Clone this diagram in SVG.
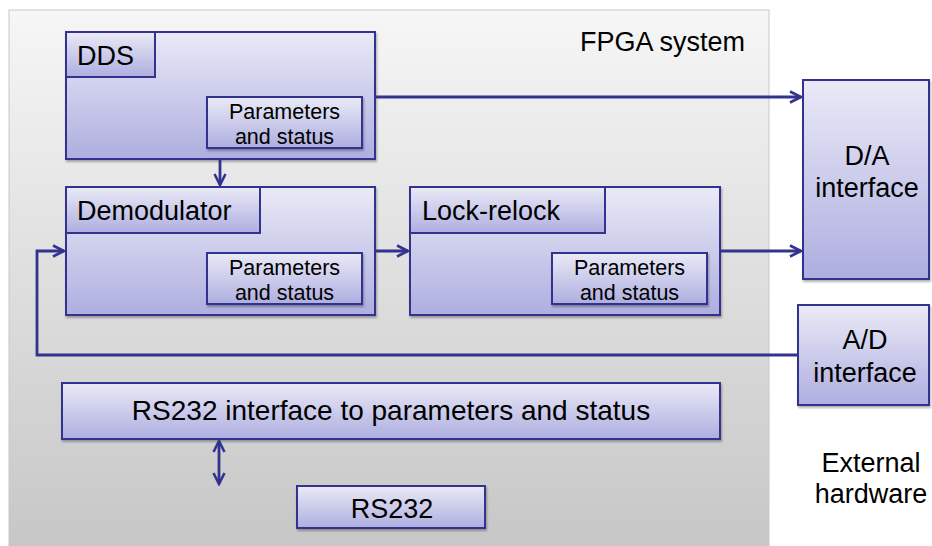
<svg xmlns="http://www.w3.org/2000/svg" width="932" height="546" viewBox="0 0 932 546">
<defs>
<linearGradient id="bg" x1="0" y1="0" x2="0" y2="1">
<stop offset="0" stop-color="#f6f6f6"/>
<stop offset="1" stop-color="#c6c6c6"/>
</linearGradient>
<linearGradient id="box" x1="0" y1="0" x2="0" y2="1">
<stop offset="0" stop-color="#eaeaf7"/>
<stop offset="1" stop-color="#aeaee0"/>
</linearGradient>
<marker id="arr" viewBox="0 0 14 14" refX="12.5" refY="7" markerWidth="14" markerHeight="14" markerUnits="userSpaceOnUse" orient="auto-start-reverse">
<path d="M1.5,1.5 L12.5,7 L1.5,12.5" fill="none" stroke="#33338f" stroke-width="2.6"/>
</marker>
<filter id="sh" x="-5%" y="-5%" width="115%" height="115%">
<feDropShadow dx="1" dy="2" stdDeviation="1.2" flood-color="#000" flood-opacity="0.3"/>
</filter>
</defs>
<style>
.b{fill:url(#box);stroke:#33338f;stroke-width:2}
.t{font-family:"Liberation Sans",Arial,sans-serif;fill:#000}
.l{font-size:27px}
.m{text-anchor:middle}
.s{font-size:21.5px;text-anchor:middle}
.c{fill:none;stroke:#33338f;stroke-width:2.8}
</style>
<rect x="9" y="10" width="760" height="545" fill="url(#bg)" stroke="#c8c8c8" stroke-width="1"/>
<text class="t l" x="580" y="51">FPGA system</text>

<g id="dds">
<rect class="b" x="66" y="32" width="309" height="127" filter="url(#sh)"/>
<rect class="b" x="66" y="32" width="89" height="45"/>
<text class="t l" x="77" y="65">DDS</text>
<rect class="b" x="207" y="97" width="155" height="51" filter="url(#sh)"/>
<text class="t s" x="284.5" y="119">Parameters</text>
<text class="t s" x="284.5" y="144">and status</text>
</g>

<g id="demodulator">
<rect class="b" x="66" y="187" width="309" height="128" filter="url(#sh)"/>
<rect class="b" x="66" y="187" width="194" height="46"/>
<text class="t l" x="77" y="220">Demodulator</text>
<rect class="b" x="207" y="253" width="155" height="51" filter="url(#sh)"/>
<text class="t s" x="284.5" y="275">Parameters</text>
<text class="t s" x="284.5" y="300">and status</text>
</g>

<g id="lockrelock">
<rect class="b" x="410" y="187" width="310" height="128" filter="url(#sh)"/>
<rect class="b" x="410" y="187" width="195" height="46"/>
<text class="t l" x="422" y="220">Lock-relock</text>
<rect class="b" x="552" y="253" width="155" height="51" filter="url(#sh)"/>
<text class="t s" x="629.5" y="275">Parameters</text>
<text class="t s" x="629.5" y="300">and status</text>
</g>

<g id="da">
<rect class="b" x="803" y="80" width="126" height="199" filter="url(#sh)"/>
<text class="t l m" x="867" y="165">D/A</text>
<text class="t l m" x="867" y="197">interface</text>
</g>

<g id="ad">
<rect class="b" x="798" y="305" width="131" height="100" filter="url(#sh)"/>
<text class="t l m" x="865" y="349">A/D</text>
<text class="t l m" x="865" y="382">interface</text>
</g>

<g id="rs232if">
<rect class="b" x="62" y="383" width="658" height="56" filter="url(#sh)"/>
<text class="t m" x="391" y="420" font-size="28">RS232 interface to parameters and status</text>
</g>

<g id="rs232">
<rect class="b" x="297" y="486" width="188" height="42" filter="url(#sh)"/>
<text class="t l m" x="392" y="518">RS232</text>
</g>

<text class="t l m" x="871" y="472">External</text>
<text class="t l m" x="871" y="503">hardware</text>

<g id="connectors">
<path class="c" d="M220,159 V185" marker-end="url(#arr)"/>
<path class="c" d="M375,97 H801" marker-end="url(#arr)"/>
<path class="c" d="M375,251 H408" marker-end="url(#arr)"/>
<path class="c" d="M720,251 H801" marker-end="url(#arr)"/>
<path class="c" d="M798,355 H37 V251 H64" marker-end="url(#arr)"/>
<path class="c" d="M219,441 V484" marker-start="url(#arr)" marker-end="url(#arr)"/>
</g>
</svg>
